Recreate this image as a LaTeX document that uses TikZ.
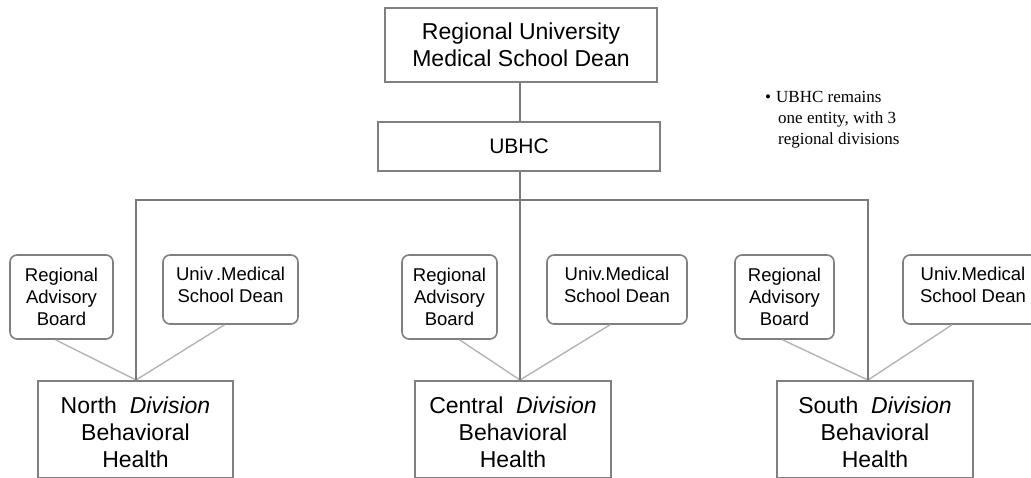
\documentclass[tikz,border=0pt]{standalone}
\usepackage{fontspec}
\setmainfont{Liberation Sans}
\newfontfamily\serifnote{Liberation Serif}
\begin{document}
\begin{tikzpicture}[x=1pt,y=-1pt,
  bigbox/.style={draw=boxgray,line width=1.6pt,fill=white,inner sep=0pt,align=center,font=\fontsize{23}{27}\selectfont},
  smallbox/.style={draw=boxgray,line width=1.6pt,rounded corners=7pt,fill=white,inner sep=0pt,align=center,font=\fontsize{18.5}{22}\selectfont},
  mainline/.style={draw=linegray,line width=2.4pt},
  thinline/.style={draw=thingray,line width=1.4pt},
]
\definecolor{boxgray}{HTML}{808080}
\definecolor{linegray}{HTML}{7A7A7A}
\definecolor{thingray}{HTML}{B4B4B4}
\useasboundingbox (0,0) rectangle (1031,478);
\clip (0,0) rectangle (1031,478);

% top boxes
\node[bigbox,minimum width=272pt,minimum height=74pt] (dean) at (521,45) {Regional University\\Medical School Dean};
\node[bigbox,minimum width=282pt,minimum height=49pt,font=\fontsize{21}{25}\selectfont] (ubhc) at (519,146.5) {UBHC};

% junction coordinates
\coordinate (hl) at (136,200);
\coordinate (hm) at (520,200);
\coordinate (hr) at (868,200);
\coordinate (jn) at (136,380);
\coordinate (jc) at (520,380);
\coordinate (js) at (868,380);

% small boxes
\node[smallbox,minimum width=103pt,minimum height=84pt] (rabN) at (61.5,297) {Regional\\Advisory\\Board};
\node[smallbox,minimum width=135pt,minimum height=69pt] (umsN) at (230.5,289.5) {Univ\,.Medical\\School Dean\\[-13pt]};
\node[smallbox,minimum width=95pt,minimum height=84pt] (rabC) at (449.5,297) {Regional\\Advisory\\Board};
\node[smallbox,minimum width=140pt,minimum height=69pt] (umsC) at (617,289.5) {Univ.Medical\\School Dean\\[-13pt]};
\node[smallbox,minimum width=99pt,minimum height=84pt] (rabS) at (784.5,297) {Regional\\Advisory\\Board};
\node[smallbox,minimum width=140pt,minimum height=69pt] (umsS) at (973,289.5) {Univ.Medical\\School Dean\\[-13pt]};

% thin connectors
\draw[thinline] ([xshift=-6pt]rabN.south) -- (jn);
\draw[thinline] ([xshift=-6pt]umsN.south) -- (jn);
\draw[thinline] ([xshift=10pt]rabC.south) -- (jc);
\draw[thinline] ([xshift=-7pt]umsC.south) -- (jc);
\draw[thinline] ([xshift=-2pt]rabS.south) -- (js);
\draw[thinline] ([xshift=-21pt]umsS.south) -- (js);

% main connectors
\draw[mainline] (dean.south -| hm) -- (ubhc.north -| hm);
\draw[mainline] (ubhc.south -| hm) -- (hm);
\draw[mainline] (jn) -- (hl) -- (hr) -- (js);
\draw[mainline] (hm) -- (jc);

% division boxes
\node[bigbox,minimum width=195pt,minimum height=97pt,anchor=north] (north) at (135.5,380) {\rule{0pt}{22pt}North\ \ \textit{Division}\\Behavioral\\Health};
\node[bigbox,minimum width=196pt,minimum height=97pt,anchor=north] (central) at (513,380) {\rule{0pt}{22pt}Central\ \ \textit{Division}\\Behavioral\\Health};
\node[bigbox,minimum width=196pt,minimum height=97pt,anchor=north] (south) at (875,380) {\rule{0pt}{22pt}South\ \ \textit{Division}\\Behavioral\\Health};

% bullet note
\node[anchor=north west,inner sep=0pt,align=left,font=\serifnote\fontsize{17}{21}\selectfont] (note) at (765,91)
  {\textbullet\hspace{5pt}UBHC remains\\\hspace{13pt}one entity, with 3\\\hspace{13pt}regional divisions};
\end{tikzpicture}
\end{document}
